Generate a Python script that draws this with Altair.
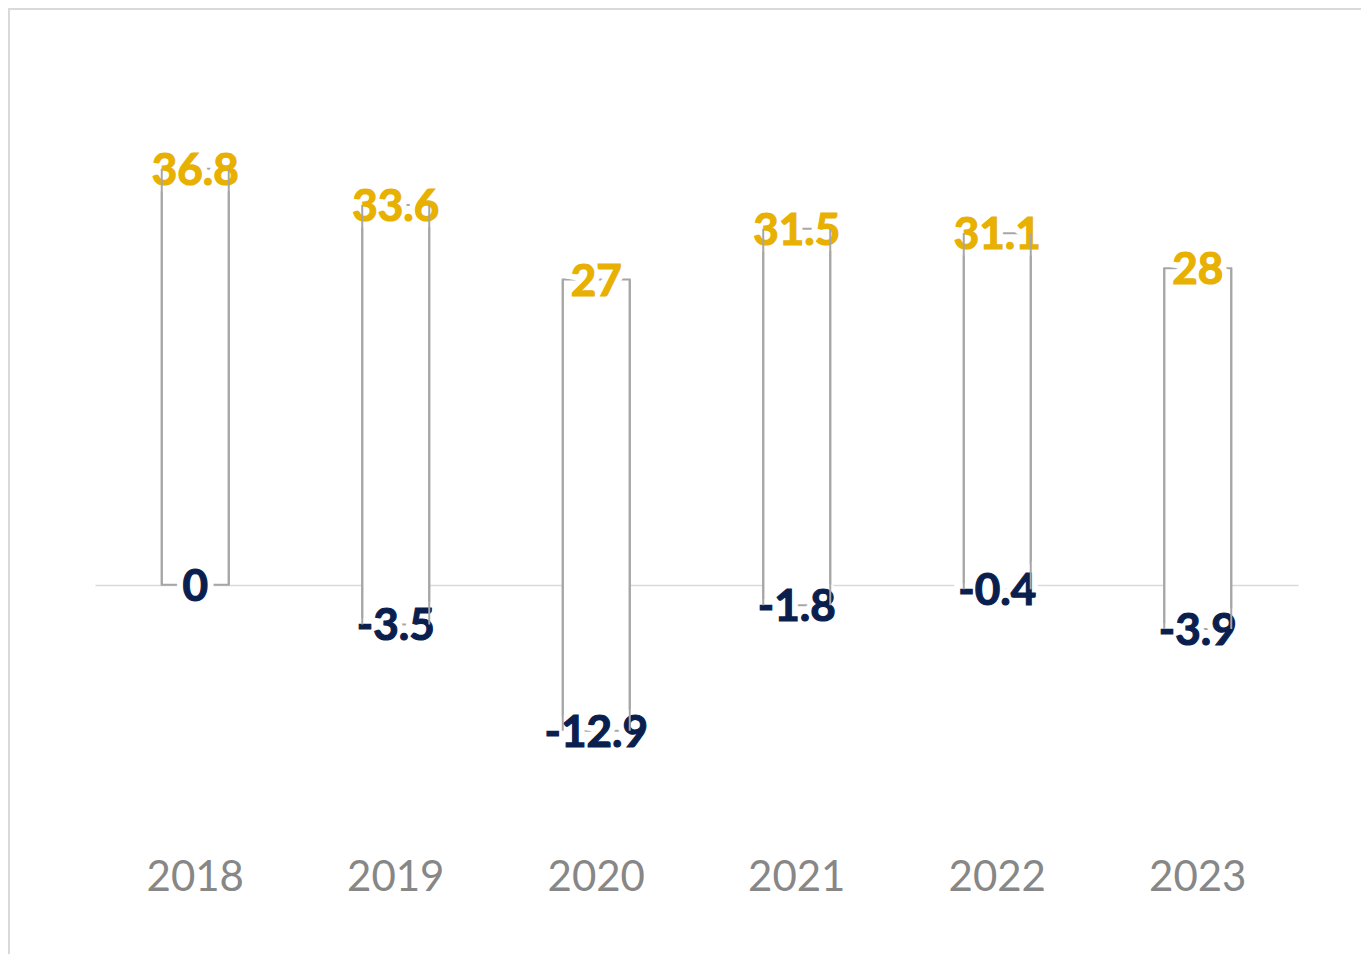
import altair as alt
import pandas as pd

years = ["2018", "2019", "2020", "2021", "2022", "2023"]
highs = [36.8, 33.6, 27, 31.5, 31.1, 28]
lows = [0, -3.5, -12.9, -1.8, -0.4, -3.9]

df = pd.DataFrame({"year": years, "high": highs, "low": lows})
df["high_lbl"] = [f"{v:g}" for v in highs]
df["low_lbl"] = [f"{v:g}" for v in lows]

W, H = 1203, 735
GOLD = "#E8B000"
NAVY = "#0B1F4F"
EDGE = "#A6A6A6"
FONT = "Lato"

xenc = alt.X("year:N", sort=years,
             scale=alt.Scale(paddingInner=0, paddingOuter=0),
             axis=alt.Axis(title=None, domain=False, ticks=False, labelAngle=0,
                           labelFont=FONT, labelFontSize=42, labelColor="#878787",
                           labelPadding=46))
yscale = alt.Scale(domain=[-20, 45], nice=False, zero=False)
yaxis = alt.Axis(title=None, values=[0], grid=True, gridColor="#D9D9D9", gridWidth=1.5,
                 labels=False, ticks=False, domain=False)

base = alt.Chart(df)
xs = alt.X("year:N", sort=years)

bars = base.mark_bar(size=67, fill="white", stroke=EDGE, strokeWidth=2).encode(
    x=xenc,
    y=alt.Y("low:Q", scale=yscale, axis=yaxis),
    y2="high:Q",
)

txt_style = dict(font=FONT, fontSize=44, fontWeight="bold", baseline="middle", dy=3)

halo_hi = base.mark_text(stroke="white", strokeWidth=13, fill="white", **txt_style).encode(
    x=xs, y="high:Q", text="high_lbl:N")
halo_lo = base.mark_text(stroke="white", strokeWidth=13, fill="white", **txt_style).encode(
    x=xs, y="low:Q", text="low_lbl:N")

txt_hi = base.mark_text(color=GOLD, stroke=GOLD, strokeWidth=1.2, **txt_style).encode(
    x=xs, y="high:Q", text="high_lbl:N")
txt_lo = base.mark_text(color=NAVY, stroke=NAVY, strokeWidth=1.2, **txt_style).encode(
    x=xs, y="low:Q", text="low_lbl:N")

rule_l = base.mark_rule(xOffset=-33.5, color=EDGE, strokeWidth=2).encode(
    x=xs, y="low:Q", y2="high:Q")
rule_r = base.mark_rule(xOffset=33.5, color=EDGE, strokeWidth=2).encode(
    x=xs, y="low:Q", y2="high:Q")

frame = alt.Chart(alt.Data(values=[{"a": 1}])).mark_rect(
    filled=False, stroke="#D9D9D9", strokeWidth=2).encode(
    x=alt.value(-86), x2=alt.value(W + 90),
    y=alt.value(-67), y2=alt.value(H + 200))

chart = alt.layer(frame, bars, halo_hi, halo_lo, txt_hi, txt_lo, rule_l, rule_r).properties(
    width=W, height=H,
    background="white",
    autosize=alt.AutoSizeParams(type="none"),
    padding={"left": 87, "top": 68, "right": 63, "bottom": 143},
).configure_view(strokeWidth=0, stroke=None)

chart.save("out.html", embed_options={"renderer": "svg", "actions": False})
